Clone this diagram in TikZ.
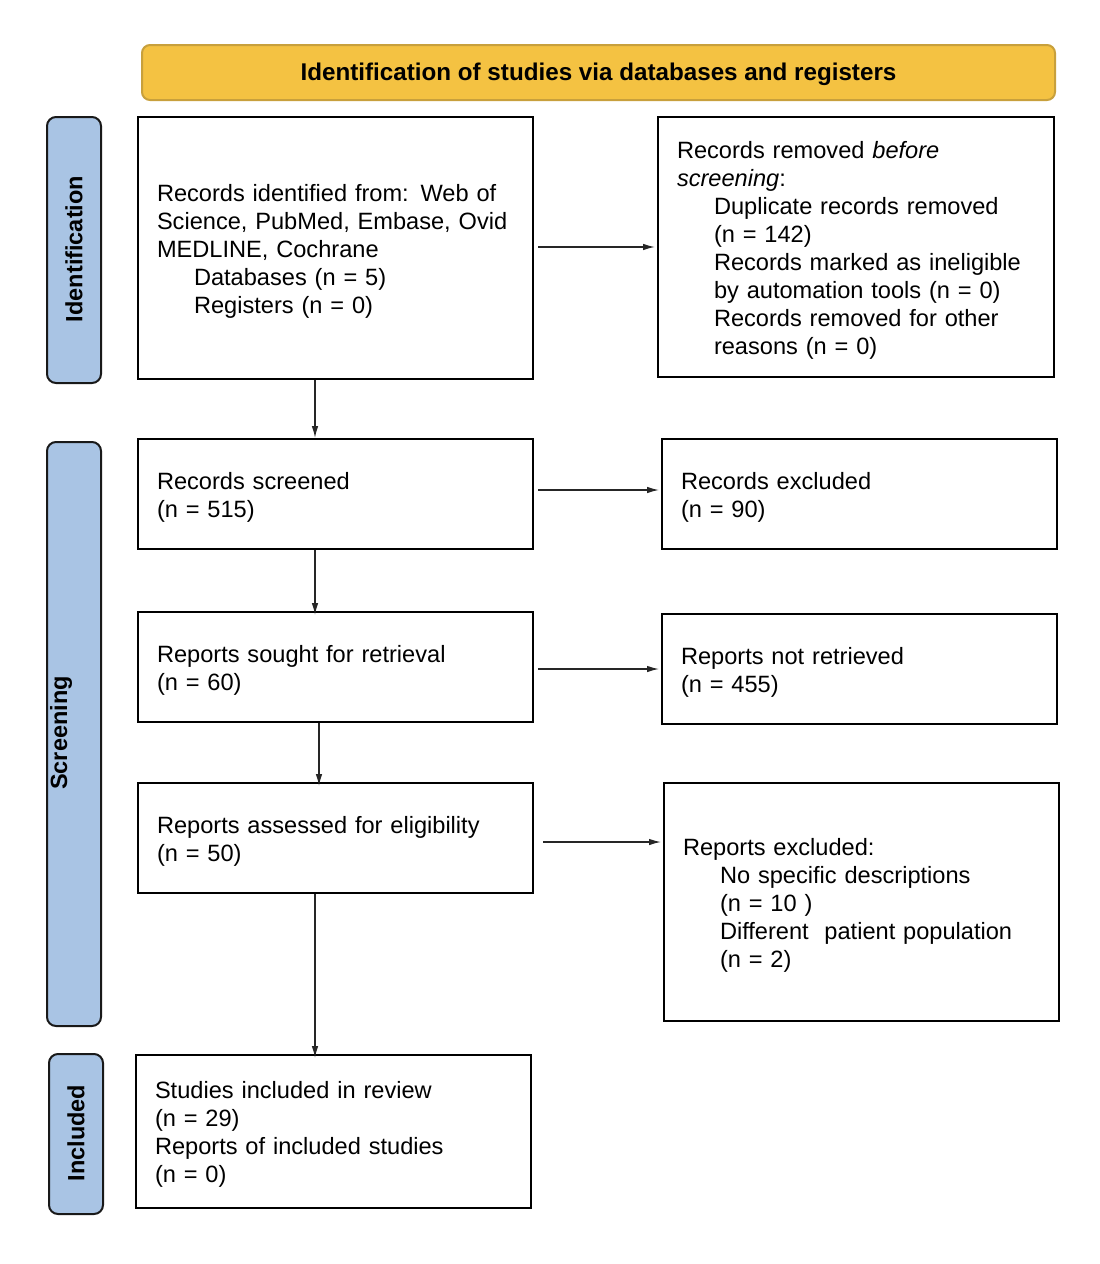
\documentclass[tikz,border=0pt]{standalone}
\usepackage{fontspec}
\setmainfont{Liberation Sans}
\usetikzlibrary{arrows.meta,calc}
\definecolor{titlefill}{RGB}{244,194,66}
\definecolor{titleborder}{RGB}{200,160,60}
\definecolor{sidefill}{RGB}{169,196,228}
\begin{document}
\begin{tikzpicture}[x=1pt,y=-1pt,
  basefont/.style={font={\fontsize{23.6pt}{28pt}\selectfont}},
  box/.style={basefont,draw=black,line width=2pt,anchor=north west,inner xsep=19pt,inner ysep=0pt,align=left,
    execute at begin node={\rule{0pt}{23.5pt}}},
  sidebox/.style={draw=black!90,line width=2pt,fill=sidefill,rounded corners=9pt,anchor=north west,minimum width=54pt,inner sep=0pt},
  sidetext/.style={font={\fontsize{23.5pt}{28pt}\selectfont\bfseries},rotate=90,inner sep=0pt},
  arr/.style={draw=black!85,line width=1.3pt,-{Latex[length=12pt,width=6.5pt]}}]
\useasboundingbox (0,0) rectangle (1100,1264);
\fill[white] (0,0) rectangle (1100,1264);

% title
\node[draw=titleborder,line width=2pt,fill=titlefill,rounded corners=8pt,anchor=north west,
  minimum width=913pt,minimum height=55pt,inner sep=0pt,
  font={\fontsize{24.2pt}{28pt}\selectfont\bfseries}] (title) at (141,44)
  {\rule{0pt}{21.5pt}Identification of studies via databases and registers};

% side bars
\node[sidebox,minimum height=266pt] (sid1) at (46,116) {};
\node[sidetext] (sid1t) at (74,249) {Identification};
\node[sidebox,minimum height=584pt] (sid2) at (46,441) {};
\node[sidetext] (sid2t) at (61,733) {Screening};
\node[sidebox,minimum height=160pt] (sid3) at (48,1053) {};
\node[sidetext] (sid3t) at (76,1133) {Included};

% boxes
\node[box,minimum width=395pt,minimum height=262pt,text width=357pt] (b1) at (137,116)
  {Records identified from: Web of\\Science, PubMed, Embase, Ovid\\MEDLINE, Cochrane\\
   \hspace*{37pt}Databases (n = 5)\\\hspace*{37pt}Registers (n = 0)};
\node[box,minimum width=396pt,minimum height=260pt,text width=358pt] (b2) at (657,116)
  {Records removed \textit{before}\\\textit{screening}:\\
   \hspace*{37pt}Duplicate records removed\\\hspace*{37pt}(n = 142)\\
   \hspace*{37pt}Records marked as ineligible\\\hspace*{37pt}by automation tools (n = 0)\\
   \hspace*{37pt}Records removed for other\\\hspace*{37pt}reasons (n = 0)};
\node[box,minimum width=395pt,minimum height=110pt,text width=357pt] (b3) at (137,438)
  {Records screened\\(n = 515)};
\node[box,minimum width=395pt,minimum height=110pt,text width=357pt] (b4) at (661,438)
  {Records excluded\\(n = 90)};
\node[box,minimum width=395pt,minimum height=110pt,text width=357pt] (b5) at (137,611)
  {Reports sought for retrieval\\(n = 60)};
\node[box,minimum width=395pt,minimum height=110pt,text width=357pt] (b6) at (661,613)
  {Reports not retrieved\\(n = 455)};
\node[box,minimum width=395pt,minimum height=110pt,text width=357pt] (b7) at (137,782)
  {Reports assessed for eligibility\\(n = 50)};
\node[box,minimum width=395pt,minimum height=238pt,text width=357pt] (b8) at (663,782)
  {Reports excluded:\\\hspace*{37pt}No specific descriptions\\\hspace*{37pt}(n = 10 )\\
   \hspace*{37pt}Different\ \ patient population\\\hspace*{37pt}(n = 2)};
\node[box,minimum width=395pt,minimum height=153pt,text width=357pt] (b9) at (135,1054)
  {Studies included in review\\(n = 29)\\Reports of included studies\\(n = 0)};

% horizontal arrows
\coordinate (h1) at ($(b1.east)+(0,-1)$);
\coordinate (h2) at ($(b3.east)+(0,-4)$);
\coordinate (h3) at ($(b5.east)+(0,2)$);
\coordinate (h4) at ($(b7.east)+(0,4)$);
\draw[arr] ($(h1)+(4,0)$) -- ($(h1 -| b2.west)+(-2,0)$);
\draw[arr] ($(h2)+(4,0)$) -- ($(h2 -| b4.west)+(-2,0)$);
\draw[arr] ($(h3)+(4,0)$) -- ($(h3 -| b6.west)+(-2,0)$);
\draw[arr] ($(h4)+(9,0)$) -- ($(h4 -| b8.west)+(-2,0)$);

% vertical arrows
\coordinate (vx1) at (315,0);
\coordinate (vx2) at (319,0);
\draw[arr] (b1.south -| vx1) -- (b3.north -| vx1);
\draw[arr] (b3.south -| vx1) -- ([yshift=-4]b5.north -| vx1);
\draw[arr] (b5.south -| vx2) -- ([yshift=-4]b7.north -| vx2);
\draw[arr] (b7.south -| vx1) -- ([yshift=-4]b9.north -| vx1);
\end{tikzpicture}
\end{document}
